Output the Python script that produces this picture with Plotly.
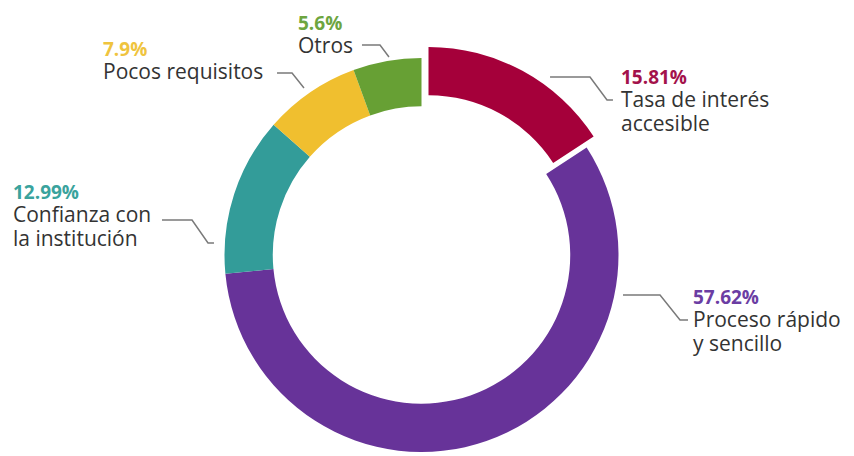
import plotly.graph_objects as go

W, H = 854, 456
OFF = 8  # default body margin of the html page

labels = ["Tasa de interés<br>accesible", "Proceso rápido<br>y sencillo",
          "Confianza con<br>la institución", "Pocos requisitos", "Otros"]
values = [15.81, 57.62, 12.99, 7.9, 5.6]
colors = ["#A5003A", "#673399", "#339C99", "#F0BF2F", "#67A034"]
pct_colors = ["#A3124B", "#6B3DA3", "#3AA39D", "#EFC43E", "#6DA540"]

# label blocks in screen pixels: (left x, y, anchor)
label_pos = [(620, 100.5, "middle"), (692, 320.5, "middle"), (12, 215, "middle"),
             (102, 60, "middle"), (297, 9, "top")]
leaders = [
    [(550, 77), (590, 77), (607, 100), (613, 100)],
    [(623, 295), (660, 295), (680, 320), (688, 320)],
    [(162, 220), (192, 220), (208, 243), (214, 243)],
    [(277, 73), (292, 73), (304, 88)],
    [(362, 45), (380, 45), (389, 57)],
]


def px(x, y):
    return (x - OFF) / W, 1 - (y - OFF) / H


def domain(cx, cy, r):
    x0, y1 = px(cx - r, cy - r)
    x1, y0 = px(cx + r, cy + r)
    return {"x": [x0, x1], "y": [y0, y1]}


cx, cy, r = 421.5, 255, 197
hole = 0.755

fig = go.Figure()
# main ring, first slice left empty (drawn pulled out below)
fig.add_trace(go.Pie(
    values=values, labels=labels, sort=False, direction="clockwise", rotation=0,
    hole=hole, textinfo="none", hoverinfo="skip",
    marker={"colors": ["rgba(0,0,0,0)"] + colors[1:], "line": {"width": 0}},
    domain=domain(cx, cy, r), showlegend=False,
))
# pulled first slice
fig.add_trace(go.Pie(
    values=values, labels=labels, sort=False, direction="clockwise", rotation=0,
    hole=hole, textinfo="none", hoverinfo="skip",
    marker={"colors": [colors[0]] + ["rgba(0,0,0,0)"] * 4, "line": {"width": 0}},
    domain=domain(cx + 7, cy - 11, r), showlegend=False,
))

for i, lab in enumerate(labels):
    x, y, anchor = label_pos[i]
    ax, ay = px(x, y)
    text = f"<span style='font-size:19px;color:{pct_colors[i]}'><b>{values[i]:g}%</b></span>"
    for line in lab.split("<br>"):
        text += f"<br><span style='font-size:21px'>{line}</span>"
    fig.add_annotation(x=ax, y=ay, xref="paper", yref="paper", xanchor="left", yanchor=anchor,
                       text=text, showarrow=False, align="left", borderpad=0,
                       font={"size": 18, "color": "#333333", "family": "Open Sans"})
    pts = [px(a, b) for a, b in leaders[i]]
    path = "M " + " L ".join(f"{a:.4f},{b:.4f}" for a, b in pts)
    fig.add_shape(type="path", path=path, xref="paper", yref="paper",
                  line={"color": "#7a7a7a", "width": 1.5})

fig.update_layout(
    width=W, height=H,
    margin={"l": 0, "r": 0, "t": 0, "b": 0},
    plot_bgcolor="white", paper_bgcolor="white",
)
fig.write_html("out.html")
